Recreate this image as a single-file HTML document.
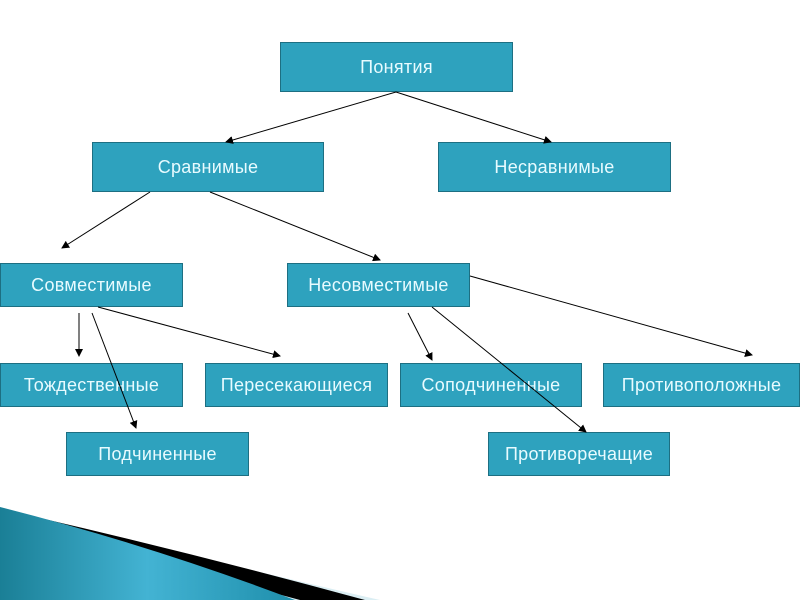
<!DOCTYPE html>
<html><head><meta charset="utf-8"><style>
body{margin:0;width:800px;height:600px;background:#fff;position:relative;overflow:hidden;font-family:"Liberation Sans","DejaVu Sans",sans-serif}
.b{position:absolute;background:#2ea2be;border:1px solid #1d6f82;color:#e8fbff;font-size:18px;display:flex;align-items:center;justify-content:center;box-sizing:border-box;letter-spacing:0.3px}
svg{position:absolute;left:0;top:0}
</style></head><body>
<svg width="800" height="600">
<defs>
<linearGradient id="g" x1="0" y1="0" x2="1" y2="0"><stop offset="0" stop-color="#1a7f96"/><stop offset="0.5" stop-color="#43b3d3"/><stop offset="1" stop-color="#1f8fac"/></linearGradient>
</defs>
<path d="M0,507 Q120,540 380,600 L0,600z" fill="#dbeef3"/>
<path d="M40,518 Q200,555 365,600 L300,600 Q150,560 40,520z" fill="#000"/>
<path d="M0,507 Q150,545 295,600 L0,600z" fill="url(#g)"/>
</svg>
<div class="b" style="left:280px;top:42px;width:233px;height:50px">Понятия</div>
<div class="b" style="left:92px;top:142px;width:232px;height:50px">Сравнимые</div>
<div class="b" style="left:438px;top:142px;width:233px;height:50px">Несравнимые</div>
<div class="b" style="left:0;top:263px;width:183px;height:44px">Совместимые</div>
<div class="b" style="left:287px;top:263px;width:183px;height:44px">Несовместимые</div>
<div class="b" style="left:0;top:363px;width:183px;height:44px">Тождественные</div>
<div class="b" style="left:205px;top:363px;width:183px;height:44px">Пересекающиеся</div>
<div class="b" style="left:400px;top:363px;width:182px;height:44px">Соподчиненные</div>
<div class="b" style="left:603px;top:363px;width:197px;height:44px">Противоположные</div>
<div class="b" style="left:66px;top:432px;width:183px;height:44px">Подчиненные</div>
<div class="b" style="left:488px;top:432px;width:182px;height:44px">Противоречащие</div>
<svg width="800" height="600" style="z-index:2">
<defs>
<marker id="a" markerWidth="8" markerHeight="8" refX="7" refY="4" orient="auto" markerUnits="userSpaceOnUse"><path d="M0,0 L8,4 L0,8z" fill="#000"/></marker>
</defs>
<g stroke="#000" stroke-width="1" marker-end="url(#a)">
<line x1="396" y1="92" x2="226" y2="142"/>
<line x1="396" y1="92" x2="551" y2="142"/>
<line x1="150" y1="192" x2="62" y2="248"/>
<line x1="210" y1="192" x2="380" y2="260"/>
<line x1="79" y1="313" x2="79" y2="356"/>
<line x1="92" y1="313" x2="136" y2="428"/>
<line x1="98" y1="307" x2="280" y2="356"/>
<line x1="408" y1="313" x2="432" y2="360"/>
<line x1="432" y1="307" x2="586" y2="432"/>
<line x1="470" y1="276" x2="752" y2="355"/>
</g>
</svg>
</body></html>
